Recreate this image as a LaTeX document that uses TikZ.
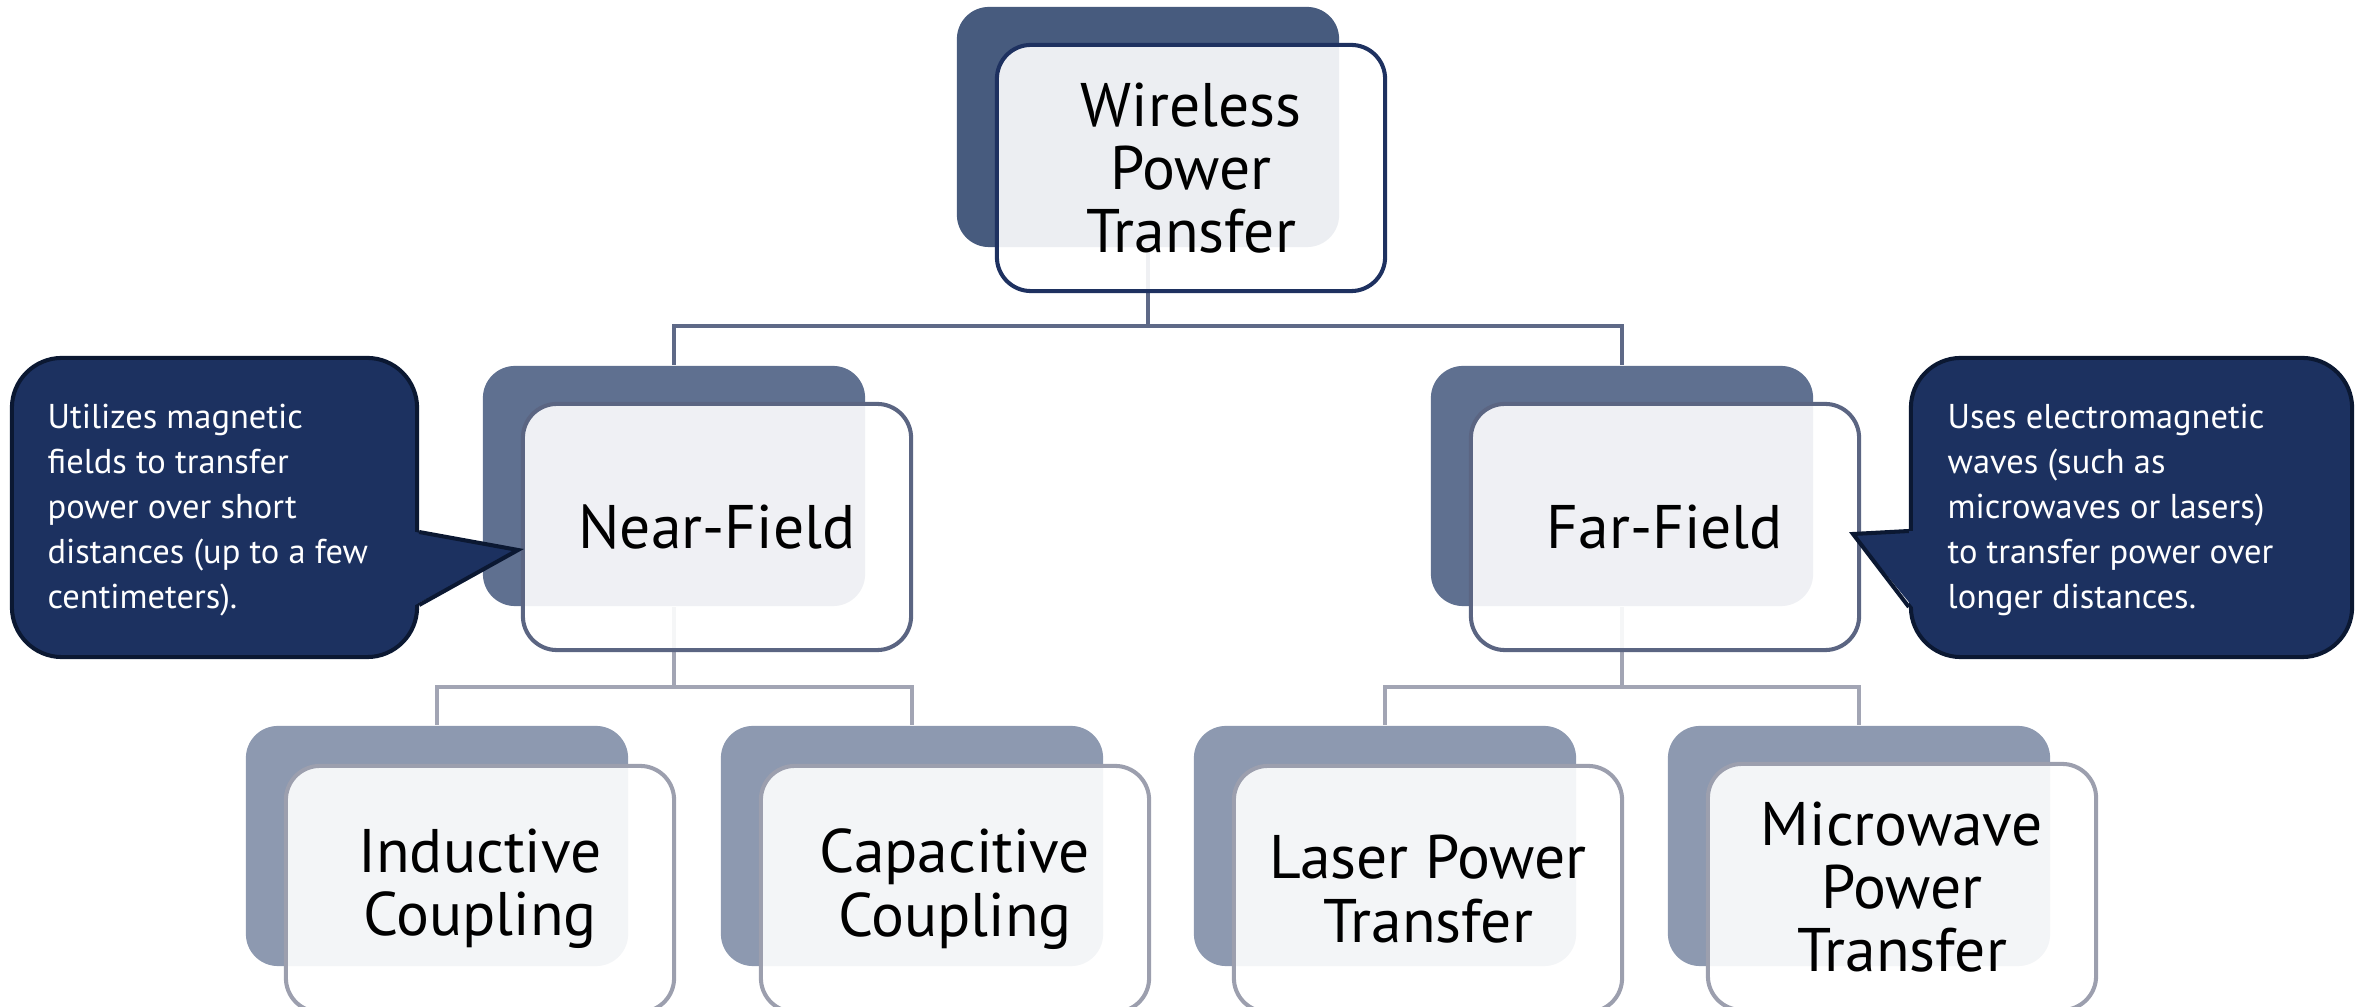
\documentclass[tikz,border=0pt]{standalone}
\usepackage{fontspec}
\setmainfont{PT Sans}
\usetikzlibrary{backgrounds}
\definecolor{topback}{HTML}{475B7E}
\definecolor{topborder}{HTML}{1E3160}
\definecolor{midback}{HTML}{5F7090}
\definecolor{midborder}{HTML}{5B6582}
\definecolor{lowback}{HTML}{8D99B0}
\definecolor{lowborder}{HTML}{9C9FAE}
\definecolor{connA}{HTML}{5E6987}
\definecolor{connB}{HTML}{A2A5B4}
\definecolor{callfill}{HTML}{1C3160}
\definecolor{callborder}{HTML}{0B1832}
\begin{document}
\begin{tikzpicture}[x=0.01cm,y=-0.01cm,
  backbox/.style={rounded corners=0.32cm, minimum width=3.82cm, minimum height=2.40cm, inner sep=0pt},
  frontbox/.style={rounded corners=0.34cm, minimum width=3.88cm, minimum height=2.46cm, inner sep=0pt,
    fill=white, fill opacity=0.9, text opacity=1, line width=1.15pt, align=center,
    font=\fontsize{17.5}{18}\selectfont, text=black},
  calloutbox/.style={rounded corners=0.5cm, fill=callfill, draw=callborder, line width=1.15pt,
    inner sep=0pt, minimum height=2.99cm},
  callouttext/.style={anchor=west, inner sep=0pt, align=left, text=white,
    font=\fontsize{9.8}{12.8}\selectfont},
  pointeredge/.style={draw=callborder, line width=1.15pt, line join=miter},
  connAline/.style={draw=connA, line width=1.1pt},
  connBline/.style={draw=connB, line width=1.1pt}]
\path[use as bounding box] (0,0) rectangle (2369,1007);
\clip (0,0) rectangle (2369,1007);

% bus coordinates
\coordinate (busA) at (0,326);
\coordinate (busL) at (0,687);
\coordinate (busR) at (0,687);

% back boxes
\node[backbox, fill=topback] (wptb) at (1148,127) {};
\node[backbox, fill=midback] (nfb) at (674,486) {};
\node[backbox, fill=midback] (ffb) at (1622,486) {};
\node[backbox, fill=lowback] (icb) at (437,846) {};
\node[backbox, fill=lowback] (ccb) at (912,846) {};
\node[backbox, fill=lowback] (lpb) at (1385,846) {};
\node[backbox, fill=lowback] (mwb) at (1859,846) {};

% front boxes
\node[frontbox, draw=topborder] (wpt) at (1191,168) {Wireless\\Power\\Transfer};
\node[frontbox, draw=midborder] (nf) at (717,527) {Near-Field};
\node[frontbox, draw=midborder] (ff) at (1665,527) {Far-Field};
\node[frontbox, draw=lowborder] (ic) at (480,889) {Inductive\\Coupling};
\node[frontbox, draw=lowborder] (cc) at (955,889) {Capacitive\\Coupling};
\node[frontbox, draw=lowborder] (lp) at (1428,889) {Laser Power\\Transfer};
\node[frontbox, draw=lowborder] (mw) at (1902,887) {Microwave\\Power\\Transfer};

% connectors behind
\begin{scope}[on background layer]
\draw[connAline] (wptb.south) -- (wptb.south |- busA) -| (nfb.north);
\draw[connAline] (wptb.south |- busA) -| (ffb.north);
\draw[connBline] (nfb.south) -- (nfb.south |- busL) -| (icb.north);
\draw[connBline] (nfb.south |- busL) -| (ccb.north);
\draw[connBline] (ffb.south) -- (ffb.south |- busR) -| (lpb.north);
\draw[connBline] (ffb.south |- busR) -| (mwb.north);
\end{scope}

% left callout
\node[calloutbox, minimum width=4.05cm] (nfc) at (214.5,507.5) {};
\coordinate (nftip) at (518,550);
\fill[callfill] ([shift={(-4,24.5)}]nfc.east) -- (nftip) -- ([shift={(-4,97.5)}]nfc.east) -- cycle;
\draw[pointeredge] ([shift={(0,24.5)}]nfc.east) -- (nftip) -- ([shift={(0,97.5)}]nfc.east);
\node[callouttext] (nft) at (47,510)
  {Utilizes magnetic\\fields to transfer\\power over short\\distances (up to a few\\centimeters).};

% right callout
\node[calloutbox, minimum width=4.41cm] (ffc) at (2131.5,507.5) {};
\coordinate (fftip) at (1853,534);
\fill[callfill] ([shift={(4,23.5)}]ffc.west) -- (fftip) -- ([shift={(4,99.5)}]ffc.west) -- cycle;
\draw[pointeredge] ([shift={(0,23.5)}]ffc.west) -- (fftip) -- ([shift={(0,99.5)}]ffc.west);
\node[callouttext] (fft) at (1947,510)
  {Uses electromagnetic\\waves (such as\\microwaves or lasers)\\to transfer power over\\longer distances.};
\end{tikzpicture}
\end{document}
